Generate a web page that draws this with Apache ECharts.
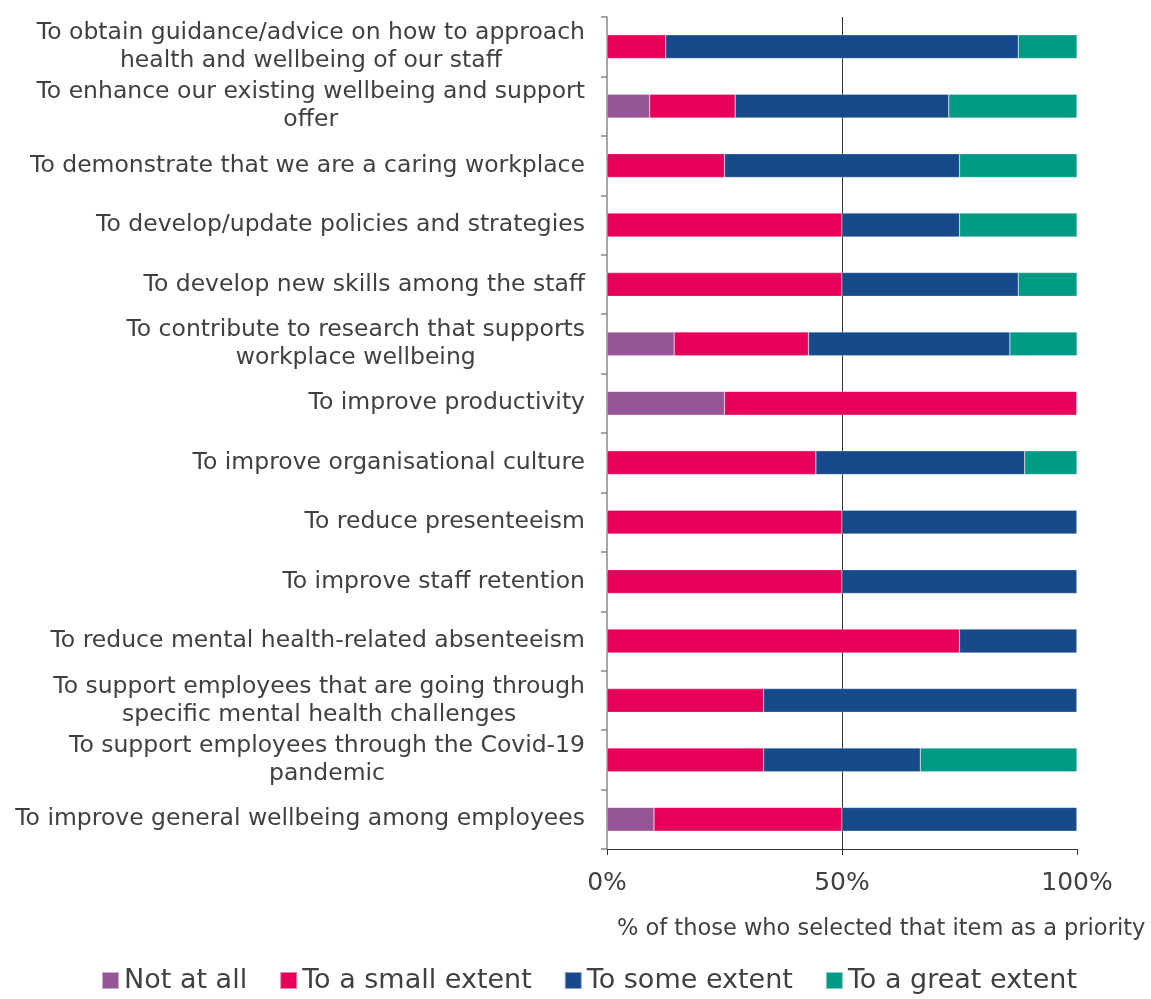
<!DOCTYPE html>
<html>
<head>
<meta charset="utf-8">
<script src="https://cdn.jsdelivr.net/npm/echarts@6/dist/echarts.min.js"></script>
<style>
  html, body { margin: 0; padding: 0; background: #fff; }
  #chart { width: 1151px; height: 999px; }
</style>
</head>
<body>
<div id="chart"></div>
<script>
// Reasons for taking part, top to bottom
const categories = [
  'To obtain guidance/advice on how to approach\nhealth and wellbeing of our staff',
  'To enhance our existing wellbeing and support\noffer',
  'To demonstrate that we are a caring workplace',
  'To develop/update policies and strategies',
  'To develop new skills among the staff',
  'To contribute to research that supports\nworkplace wellbeing',
  'To improve productivity',
  'To improve organisational culture',
  'To reduce presenteeism',
  'To improve staff retention',
  'To reduce mental health-related absenteeism',
  'To support employees that are going through\nspecific mental health challenges',
  'To support employees through the Covid-19\npandemic',
  'To improve general wellbeing among employees'
];

// Shares (%) per response level, same order as categories
const notAtAll     = [0,    9.09, 0,  0,  0,    14.29, 25, 0,     0,  0,  0,  0,     0,     10];
const smallExtent  = [12.5, 18.18, 25, 50, 50,   28.57, 75, 44.44, 50, 50, 75, 33.33, 33.33, 40];
const someExtent   = [75,   45.45, 50, 25, 37.5, 42.86, 0,  44.44, 50, 50, 25, 66.67, 33.33, 50];
const greatExtent  = [12.5, 27.27, 25, 25, 12.5, 14.29, 0,  11.11, 0,  0,  0,  0,     33.33, 0];

const xTicks = [0, 50, 100];

const FONT = '"DejaVu Sans", sans-serif';
const TEXT = '#404040';

function bar(name, data, color) {
  return {
    name: name,
    type: 'bar',
    stack: 'total',
    barWidth: '40%',
    data: data,
    itemStyle: { color: color, borderColor: 'rgba(255,255,255,0.5)', borderWidth: 0.5 }
  };
}

// Wrapped labels: block sits right against the axis, lines centred within it
function categoryLabel(value) {
  return value.split('\n').map(function (line) { return '{c|' + line + '}'; }).join('\n');
}

const chart = echarts.init(document.getElementById('chart'), null, { renderer: 'canvas' });
chart.setOption({
  animation: false,
  textStyle: { fontFamily: FONT, color: TEXT },
  title: {
    text: '% of those who selected that item as a priority',
    left: 612,
    top: 913,
    textStyle: { fontFamily: FONT, fontSize: 22.5, fontWeight: 'normal', color: TEXT }
  },
  legend: {
    bottom: 0,
    left: 96,
    itemWidth: 17,
    itemHeight: 17,
    itemGap: 32,
    icon: 'rect',
    textStyle: { fontFamily: FONT, fontSize: 27, color: TEXT },
    data: ['Not at all', 'To a small extent', 'To some extent', 'To a great extent']
  },
  grid: { left: 607, right: 74, top: 17, bottom: 150, containLabel: false },
  xAxis: {
    type: 'value',
    min: xTicks[0],
    max: xTicks[xTicks.length - 1],
    interval: xTicks[1] - xTicks[0],
    axisLine: { show: true, lineStyle: { color: '#333', width: 1 } },
    axisTick: { show: true, length: 6, lineStyle: { color: '#333' } },
    axisLabel: {
      formatter: '{value}%',
      fontFamily: FONT,
      fontSize: 25,
      color: TEXT,
      margin: 22
    },
    splitLine: {
      show: true,
      showMinLine: false,
      showMaxLine: false,
      lineStyle: { color: '#333', width: 1, type: 'solid' }
    }
  },
  yAxis: {
    type: 'category',
    inverse: true,
    data: categories,
    axisLine: { show: true, lineStyle: { color: '#888', width: 1.5 } },
    axisTick: { show: true, length: 6, lineStyle: { color: '#888', width: 1.5 } },
    axisLabel: {
      formatter: categoryLabel,
      fontFamily: FONT,
      fontSize: 23.5,
      lineHeight: 28,
      color: TEXT,
      margin: 22,
      align: 'right',
      rich: {
        c: {
          align: 'center',
          fontFamily: FONT,
          fontSize: 23.5,
          lineHeight: 28,
          color: TEXT
        }
      }
    }
  },
  series: [
    bar('Not at all', notAtAll, '#955596'),
    bar('To a small extent', smallExtent, '#E6005A'),
    bar('To some extent', someExtent, '#174A8B'),
    bar('To a great extent', greatExtent, '#009B84')
  ]
});
</script>
</body>
</html>
